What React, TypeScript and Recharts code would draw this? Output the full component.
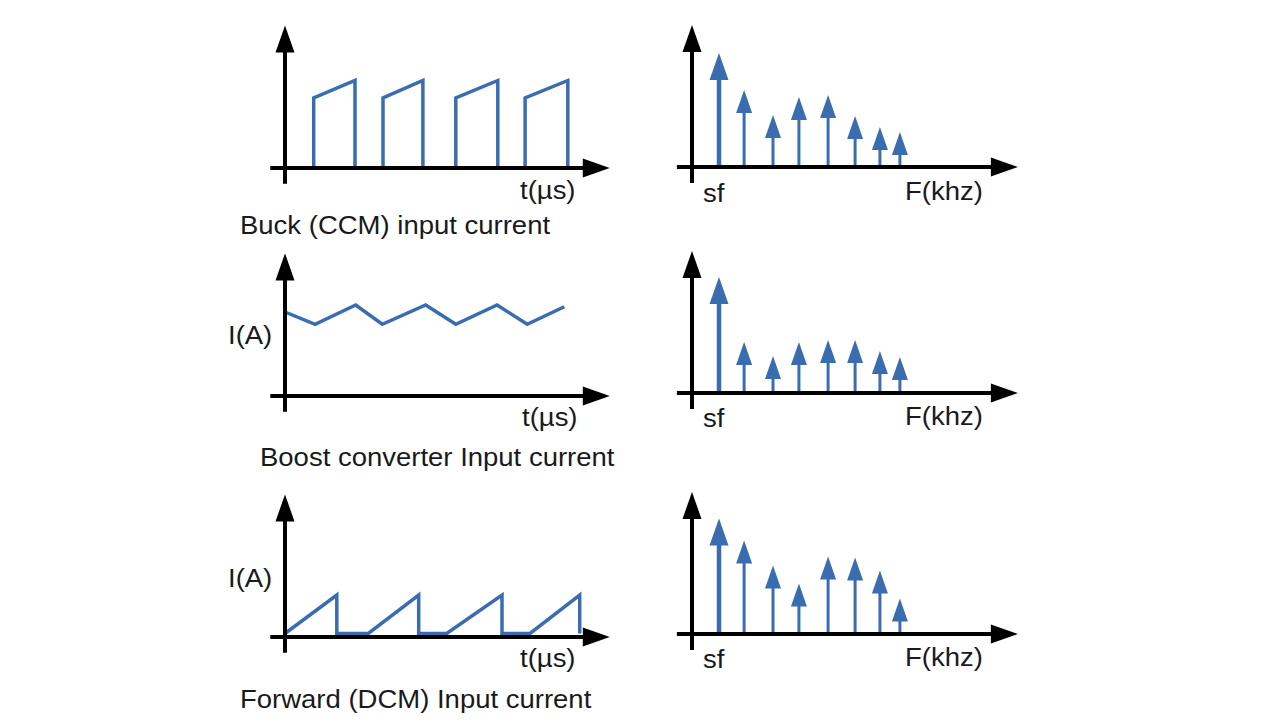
import { ComposedChart, Line, Bar, XAxis, YAxis, ReferenceLine } from "recharts";

const BLUE = "#3a6db0";

// time-domain input currents (t in µs, current in A, relative)
const buckTime = [4.1, 4.1, 10, 10, 12, 14, 14, 19.7, 19.7, 22, 24.4, 24.4, 30.4, 30.4, 32, 34.3, 34.3, 40.4, 40.4];
const buckCurrent = [0, 4, 5, 0, null, 0, 4, 5, 0, null, 0, 4, 5, 0, null, 0, 4, 5, 0];

const boostTime = [0, 4.3, 10.1, 13.9, 20.1, 24.4, 30.3, 34.6, 39.9];
const boostCurrent = [4.8, 4.1, 5.2, 4.1, 5.2, 4.1, 5.2, 4.1, 5.1];

const dcmTime = [0, 7.4, 7.4, 11.9, 19.1, 19.1, 23.1, 31, 31, 35, 42.1, 42.1];
const dcmCurrent = [0.2, 2.4, 0.2, 0.2, 2.4, 0.2, 0.2, 2.4, 0.2, 0.2, 2.4, 0.2];

// spectra: harmonic positions and amplitudes
const harmonicFreq = [1, 1.93, 3, 3.96, 5.04, 6.04, 6.96, 7.7];
const buckSpectrum = [11.4, 7.7, 5.2, 7.0, 7.2, 5.1, 4.0, 3.5];
const boostSpectrum = [11.6, 5.1, 3.7, 5.1, 5.3, 5.3, 4.2, 3.6];
const dcmSpectrum = [11.55, 9.35, 6.85, 5.05, 7.75, 7.65, 6.35, 3.55];

const timeLabel = "t(µs)";
const freqLabel = "F(khz)";
const originLabel = "sf";
const currentLabel = "I(A)";
const captions = ["Buck (CCM) input current", "Boost converter Input current", "Forward (DCM) Input current"];

const toWave = (t: number[], i: (number | null)[]) => t.map((v, k) => ({ t: v, i: i[k] }));
const toSpectrum = (a: number[]) => harmonicFreq.map((f, k) => ({ f, a: a[k] }));

const ArrowAxis = (props: any) => {
  const { x1, y1, x2, y2 } = props;
  const len = 27;
  const half = 9.5;
  const d = Math.hypot(x2 - x1, y2 - y1) || 1;
  const ux = (x2 - x1) / d;
  const uy = (y2 - y1) / d;
  const bx = x2 - ux * len;
  const by = y2 - uy * len;
  return (
    <g>
      <line x1={x1} y1={y1} x2={bx + ux} y2={by + uy} stroke="#000" strokeWidth={4} />
      <polygon
        points={`${x2},${y2} ${bx - uy * half},${by + ux * half} ${bx + uy * half},${by - ux * half}`}
        fill="#000"
      />
    </g>
  );
};

const Spike = (props: any) => {
  const { x, y, width, height, index } = props;
  const cx = x + width / 2;
  const base = y + height;
  const big = index === 0;
  const headH = big ? 27 : 23;
  const headW = big ? 19 : 16;
  return (
    <g>
      <line x1={cx} y1={base} x2={cx} y2={y + headH - 1} stroke={BLUE} strokeWidth={big ? 4.5 : 3} />
      <polygon points={`${cx},${y} ${cx - headW / 2},${y + headH} ${cx + headW / 2},${y + headH}`} fill={BLUE} />
    </g>
  );
};

function WavePanel({ top, data }: { top: number; data: { t: number; i: number | null }[] }) {
  return (
    <div style={{ position: "absolute", left: 264, top }}>
      <ComposedChart width={350} height={168} data={data} margin={{ top: 0, right: 0, bottom: 0, left: 0 }}>
        <XAxis type="number" dataKey="t" domain={[-3, 47]} hide allowDataOverflow />
        <YAxis type="number" domain={[-1.2, 8.4]} hide allowDataOverflow />
        <Line
          type="linear"
          dataKey="i"
          stroke={BLUE}
          strokeWidth={3.5}
          strokeLinejoin="miter"
          dot={false}
          activeDot={false}
          isAnimationActive={false}
        />
        <ReferenceLine segment={[{ x: -2.1, y: 0 }, { x: 46.4, y: 0 }]} shape={ArrowAxis} ifOverflow="visible" />
        <ReferenceLine segment={[{ x: 0, y: -0.9 }, { x: 0, y: 8.15 }]} shape={ArrowAxis} ifOverflow="visible" />
      </ComposedChart>
    </div>
  );
}

function SpectrumPanel({ top, data }: { top: number; data: { f: number; a: number }[] }) {
  return (
    <div style={{ position: "absolute", left: 665, top }}>
      <ComposedChart width={364.5} height={170} data={data} margin={{ top: 0, right: 0, bottom: 0, left: 0 }}>
        <XAxis type="number" dataKey="f" domain={[-1, 12.5]} hide allowDataOverflow />
        <YAxis type="number" domain={[-2, 15]} hide allowDataOverflow />
        <Bar dataKey="a" barSize={4} shape={Spike} isAnimationActive={false} />
        <ReferenceLine segment={[{ x: -0.56, y: 0 }, { x: 12.07, y: 0 }]} shape={ArrowAxis} ifOverflow="visible" />
        <ReferenceLine segment={[{ x: 0, y: -1.6 }, { x: 0, y: 14.2 }]} shape={ArrowAxis} ifOverflow="visible" />
      </ComposedChart>
    </div>
  );
}

const Label = ({ x, y, text }: { x: number; y: number; text: string }) => (
  <text transform={`translate(${x},${y}) scale(1.1,1)`} fontSize={25} fill="#1a1a1a">
    {text}
  </text>
);

export default function App() {
  return (
    <div
      style={{
        position: "absolute",
        left: 0,
        top: 0,
        width: 1280,
        height: 722,
        background: "#fff",
        fontFamily: "'Liberation Sans', Arial, sans-serif",
        overflow: "hidden",
      }}
    >
      <WavePanel top={21} data={toWave(buckTime, buckCurrent)} />
      <WavePanel top={249} data={toWave(boostTime, boostCurrent)} />
      <WavePanel top={490} data={toWave(dcmTime, dcmCurrent)} />
      <SpectrumPanel top={17} data={toSpectrum(buckSpectrum)} />
      <SpectrumPanel top={243} data={toSpectrum(boostSpectrum)} />
      <SpectrumPanel top={483.5} data={toSpectrum(dcmSpectrum)} />
      <svg
        width={1280}
        height={722}
        style={{ position: "absolute", left: 0, top: 0, pointerEvents: "none" }}
        fontFamily="'Liberation Sans', Arial, sans-serif"
      >
        <Label x={520} y={199} text={timeLabel} />
        <Label x={240} y={234} text={captions[0]} />
        <Label x={703} y={202} text={originLabel} />
        <Label x={905} y={200} text={freqLabel} />

        <Label x={228} y={344} text={currentLabel} />
        <Label x={522} y={426} text={timeLabel} />
        <Label x={260} y={466} text={captions[1]} />
        <Label x={703} y={427} text={originLabel} />
        <Label x={905} y={425} text={freqLabel} />

        <Label x={228} y={587} text={currentLabel} />
        <Label x={520} y={667} text={timeLabel} />
        <Label x={240} y={708} text={captions[2]} />
        <Label x={703} y={668} text={originLabel} />
        <Label x={905} y={666} text={freqLabel} />
      </svg>
    </div>
  );
}
